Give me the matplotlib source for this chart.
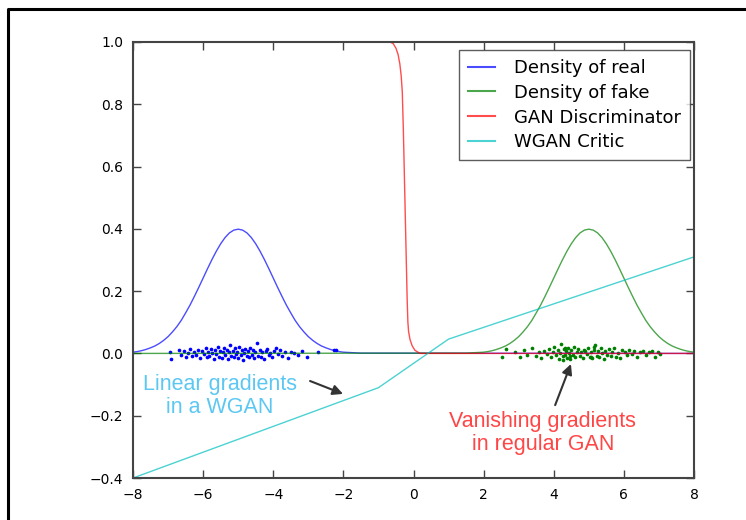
import matplotlib
matplotlib.use('Agg')
import matplotlib.pyplot as plt
from matplotlib.lines import Line2D

# density curves (fine steps around the bumps)
real_x = [-8.0, -7.875, -7.75, -7.625, -7.5, -7.375, -7.25, -7.125, -7.0, -6.875, -6.75, -6.625,
          -6.5, -6.375, -6.25, -6.125, -6.0, -5.875, -5.75, -5.625, -5.5, -5.375, -5.25, -5.125,
          -5.0, -4.875, -4.75, -4.625, -4.5, -4.375, -4.25, -4.125, -4.0, -3.875, -3.75, -3.625,
          -3.5, -3.375, -3.25, -3.125, -3.0, -2.875, -2.75, -2.625, -2.5, -2.375, -2.25, -2.125,
          -2.0, -1.5, 8.0]
real_density = [0.004, 0.006, 0.009, 0.013, 0.018, 0.024, 0.032, 0.042, 0.054, 0.069, 0.086, 0.106,
                0.130, 0.155, 0.183, 0.212, 0.242, 0.272, 0.301, 0.328, 0.352, 0.372, 0.387, 0.396,
                0.399, 0.396, 0.387, 0.372, 0.352, 0.328, 0.301, 0.272, 0.242, 0.212, 0.183, 0.155,
                0.130, 0.106, 0.086, 0.069, 0.054, 0.042, 0.032, 0.024, 0.018, 0.013, 0.009, 0.006,
                0.004, 0.001, 0.0]
fake_x = [-8.0, 1.5, 2.0, 2.125, 2.25, 2.375, 2.5, 2.625, 2.75, 2.875, 3.0, 3.125,
          3.25, 3.375, 3.5, 3.625, 3.75, 3.875, 4.0, 4.125, 4.25, 4.375, 4.5, 4.625,
          4.75, 4.875, 5.0, 5.125, 5.25, 5.375, 5.5, 5.625, 5.75, 5.875, 6.0, 6.125,
          6.25, 6.375, 6.5, 6.625, 6.75, 6.875, 7.0, 7.125, 7.25, 7.375, 7.5, 7.625,
          7.75, 7.875, 8.0]
fake_density = [0.0, 0.001, 0.004, 0.006, 0.009, 0.013, 0.018, 0.024, 0.032, 0.042, 0.054, 0.069,
                0.086, 0.106, 0.130, 0.155, 0.183, 0.212, 0.242, 0.272, 0.301, 0.328, 0.352, 0.372,
                0.387, 0.396, 0.399, 0.396, 0.387, 0.372, 0.352, 0.328, 0.301, 0.272, 0.242, 0.212,
                0.183, 0.155, 0.130, 0.106, 0.086, 0.069, 0.054, 0.042, 0.032, 0.024, 0.018, 0.013,
                0.009, 0.006, 0.004]

disc_x = [-8.0, -0.67, -0.58, -0.50, -0.44, -0.39, -0.35, -0.32, -0.29, -0.25, -0.21,
          -0.18, -0.16, -0.14, -0.10, -0.04, 0.04, 0.19, 8.0]
disc_y = [1.0, 1.0, 0.995, 0.98, 0.96, 0.93, 0.89, 0.84, 0.72, 0.52, 0.32,
          0.17, 0.10, 0.07, 0.045, 0.025, 0.01, 0.0, 0.0]

critic_x = [-8.0, -1.0, 1.0, 8.0]
critic_y = [-0.40, -0.11, 0.046, 0.31]

# samples drawn as dots along y = 0
real_pts_x = [-6.95, -6.92, -6.70, -6.62, -6.55, -6.48, -6.44, -6.38, -6.31, -6.27,
              -6.20, -6.15, -6.10, -6.04, -5.98, -5.93, -5.90, -5.86, -5.82, -5.78,
              -5.74, -5.70, -5.66, -5.62, -5.58, -5.55, -5.51, -5.47, -5.44, -5.40,
              -5.37, -5.33, -5.30, -5.27, -5.23, -5.20, -5.16, -5.13, -5.10, -5.06,
              -5.03, -5.00, -4.97, -4.93, -4.90, -4.86, -4.83, -4.80, -4.76, -4.73,
              -4.70, -4.66, -4.62, -4.59, -4.55, -4.51, -4.47, -4.43, -4.39, -4.35,
              -4.31, -4.27, -4.22, -4.18, -4.13, -4.08, -4.03, -3.98, -3.92, -3.86,
              -3.80, -3.74, -3.66, -3.58, -3.50, -3.42, -3.30, -3.18, -3.05, -2.72,
              -2.26, -2.20]
real_pts_y = [0.004, -0.018, 0.012, -0.006, 0.009, -0.013, 0.002, 0.015, -0.009, 0.006,
              -0.004, 0.011, -0.015, 0.008, -0.002, 0.019, -0.011, 0.005, -0.007, 0.013,
              0.001, -0.017, 0.010, -0.003, 0.022, -0.010, 0.007, -0.014, 0.003, 0.017,
              -0.006, 0.012, -0.019, 0.004, 0.026, -0.008, 0.009, -0.012, 0.016, -0.001,
              0.006, -0.016, 0.020, -0.005, 0.011, -0.020, 0.002, 0.014, -0.009, 0.008,
              -0.013, 0.018, -0.004, 0.010, -0.015, 0.005, 0.032, -0.007, 0.012, -0.011,
              0.003, -0.018, 0.009, 0.015, -0.006, 0.001, -0.012, 0.007, 0.019, -0.003,
              0.011, -0.009, 0.004, -0.014, 0.006, 0.002, -0.005, 0.008, -0.010, 0.003,
              0.012, 0.010]
fake_pts_x = [2.52, 2.65, 2.90, 3.05, 3.15, 3.25, 3.38, 3.48, 3.57, 3.65,
              3.72, 3.80, 3.86, 3.92, 3.97, 4.02, 4.07, 4.11, 4.15, 4.19,
              4.22, 4.25, 4.28, 4.31, 4.34, 4.37, 4.40, 4.43, 4.46, 4.50,
              4.54, 4.58, 4.62, 4.66, 4.70, 4.74, 4.78, 4.82, 4.86, 4.90,
              4.94, 4.98, 5.02, 5.06, 5.10, 5.14, 5.18, 5.22, 5.26, 5.30,
              5.34, 5.38, 5.42, 5.47, 5.52, 5.57, 5.62, 5.67, 5.72, 5.78,
              5.84, 5.90, 5.96, 6.02, 6.08, 6.15, 6.22, 6.30, 6.38, 6.46,
              6.55, 6.64, 6.72, 6.80, 6.88, 6.96, 7.03, 4.27, 4.33, 5.05,
              5.15, 4.45]
fake_pts_y = [-0.010, 0.015, 0.006, -0.013, 0.012, -0.004, 0.018, -0.008, 0.003, -0.016,
              0.009, -0.002, 0.014, -0.011, 0.005, 0.020, -0.006, 0.011, -0.018, 0.002,
              0.031, -0.009, 0.013, -0.004, 0.007, -0.014, 0.017, 0.001, -0.019, 0.010,
              -0.005, 0.022, -0.012, 0.006, 0.015, -0.008, 0.003, -0.016, 0.012, 0.008,
              -0.003, 0.019, -0.010, 0.004, -0.015, 0.011, 0.026, -0.007, 0.009, -0.012,
              0.016, 0.002, -0.017, 0.008, -0.004, 0.013, -0.009, 0.006, 0.018, -0.011,
              0.001, -0.014, 0.010, 0.004, -0.006, 0.012, -0.002, 0.007, -0.010, 0.003,
              0.009, -0.005, 0.006, 0.008, -0.011, 0.004, -0.003, -0.020, 0.016, -0.013,
              0.021, -0.007]

labels = ['Density of real', 'Density of fake', 'GAN Discriminator', 'WGAN Critic']

fig = plt.figure(figsize=(7.46, 5.2), dpi=100)
ax = fig.add_axes([133 / 746, 1 - 478 / 520, 561 / 746, 436 / 520])

ax.plot(real_x, real_density, color='b', alpha=0.7, lw=1.0, label=labels[0])
ax.plot(fake_x, fake_density, color='g', alpha=0.7, lw=1.0, label=labels[1])
ax.scatter(real_pts_x, real_pts_y, s=7, color='b', linewidths=0)
ax.scatter(fake_pts_x, fake_pts_y, s=7, color='g', linewidths=0)
ax.plot(disc_x, disc_y, color='r', alpha=0.7, lw=1.0, label=labels[2])
ax.plot(critic_x, critic_y, color='c', alpha=0.7, lw=1.0, label=labels[3])

ax.set_xlim(-8, 8)
ax.set_ylim(-0.4, 1.0)
ax.set_xticks([-8, -6, -4, -2, 0, 2, 4, 6, 8])
ax.set_yticks([-0.4, -0.2, 0.0, 0.2, 0.4, 0.6, 0.8, 1.0])
ax.tick_params(direction='in', top=True, right=True, length=6, width=1,
               color='#444444', labelsize=10, pad=7)
for sp in ax.spines.values():
    sp.set_color('#444444')
    sp.set_linewidth(1.5)

leg = ax.legend(loc='upper right', bbox_to_anchor=(0.993, 0.982), borderaxespad=0,
                fontsize=13, fancybox=False, handlelength=1.5, handletextpad=1.05,
                labelspacing=0.38, borderpad=0.5)
leg.get_frame().set_edgecolor('#333333')
leg.get_frame().set_linewidth(1.0)
for h in leg.get_lines():
    h.set_linewidth(1.5)

ax.annotate('', xy=(-2.01, -0.130), xytext=(-2.95, -0.0885),
            arrowprops=dict(arrowstyle='-|>,head_length=0.6,head_width=0.3',
                            color='#333333', lw=1.5, shrinkA=0, shrinkB=0))
ax.annotate('', xy=(4.49, -0.034), xytext=(4.04, -0.166),
            arrowprops=dict(arrowstyle='-|>,head_length=0.6,head_width=0.3',
                            color='#333333', lw=1.5, shrinkA=0, shrinkB=0))
ax.text(-5.52, -0.137, 'Linear gradients\nin a WGAN', color='#5cc8f2', fontsize=15.5,
        family='Liberation Sans', ha='center', va='center', linespacing=1.15)
ax.text(3.69, -0.255, 'Vanishing gradients\nin regular GAN', color='#ff4646', fontsize=15.5,
        family='Liberation Sans', ha='center', va='center', linespacing=1.15)

# black frame on the top and left of the screenshot
fig.add_artist(Line2D([7.5 / 746, 7.5 / 746, 1.0], [0.0, 1 - 9 / 520, 1 - 9 / 520],
                      transform=fig.transFigure, color='black', lw=2.2))

plt.savefig('out.png', dpi=100)
